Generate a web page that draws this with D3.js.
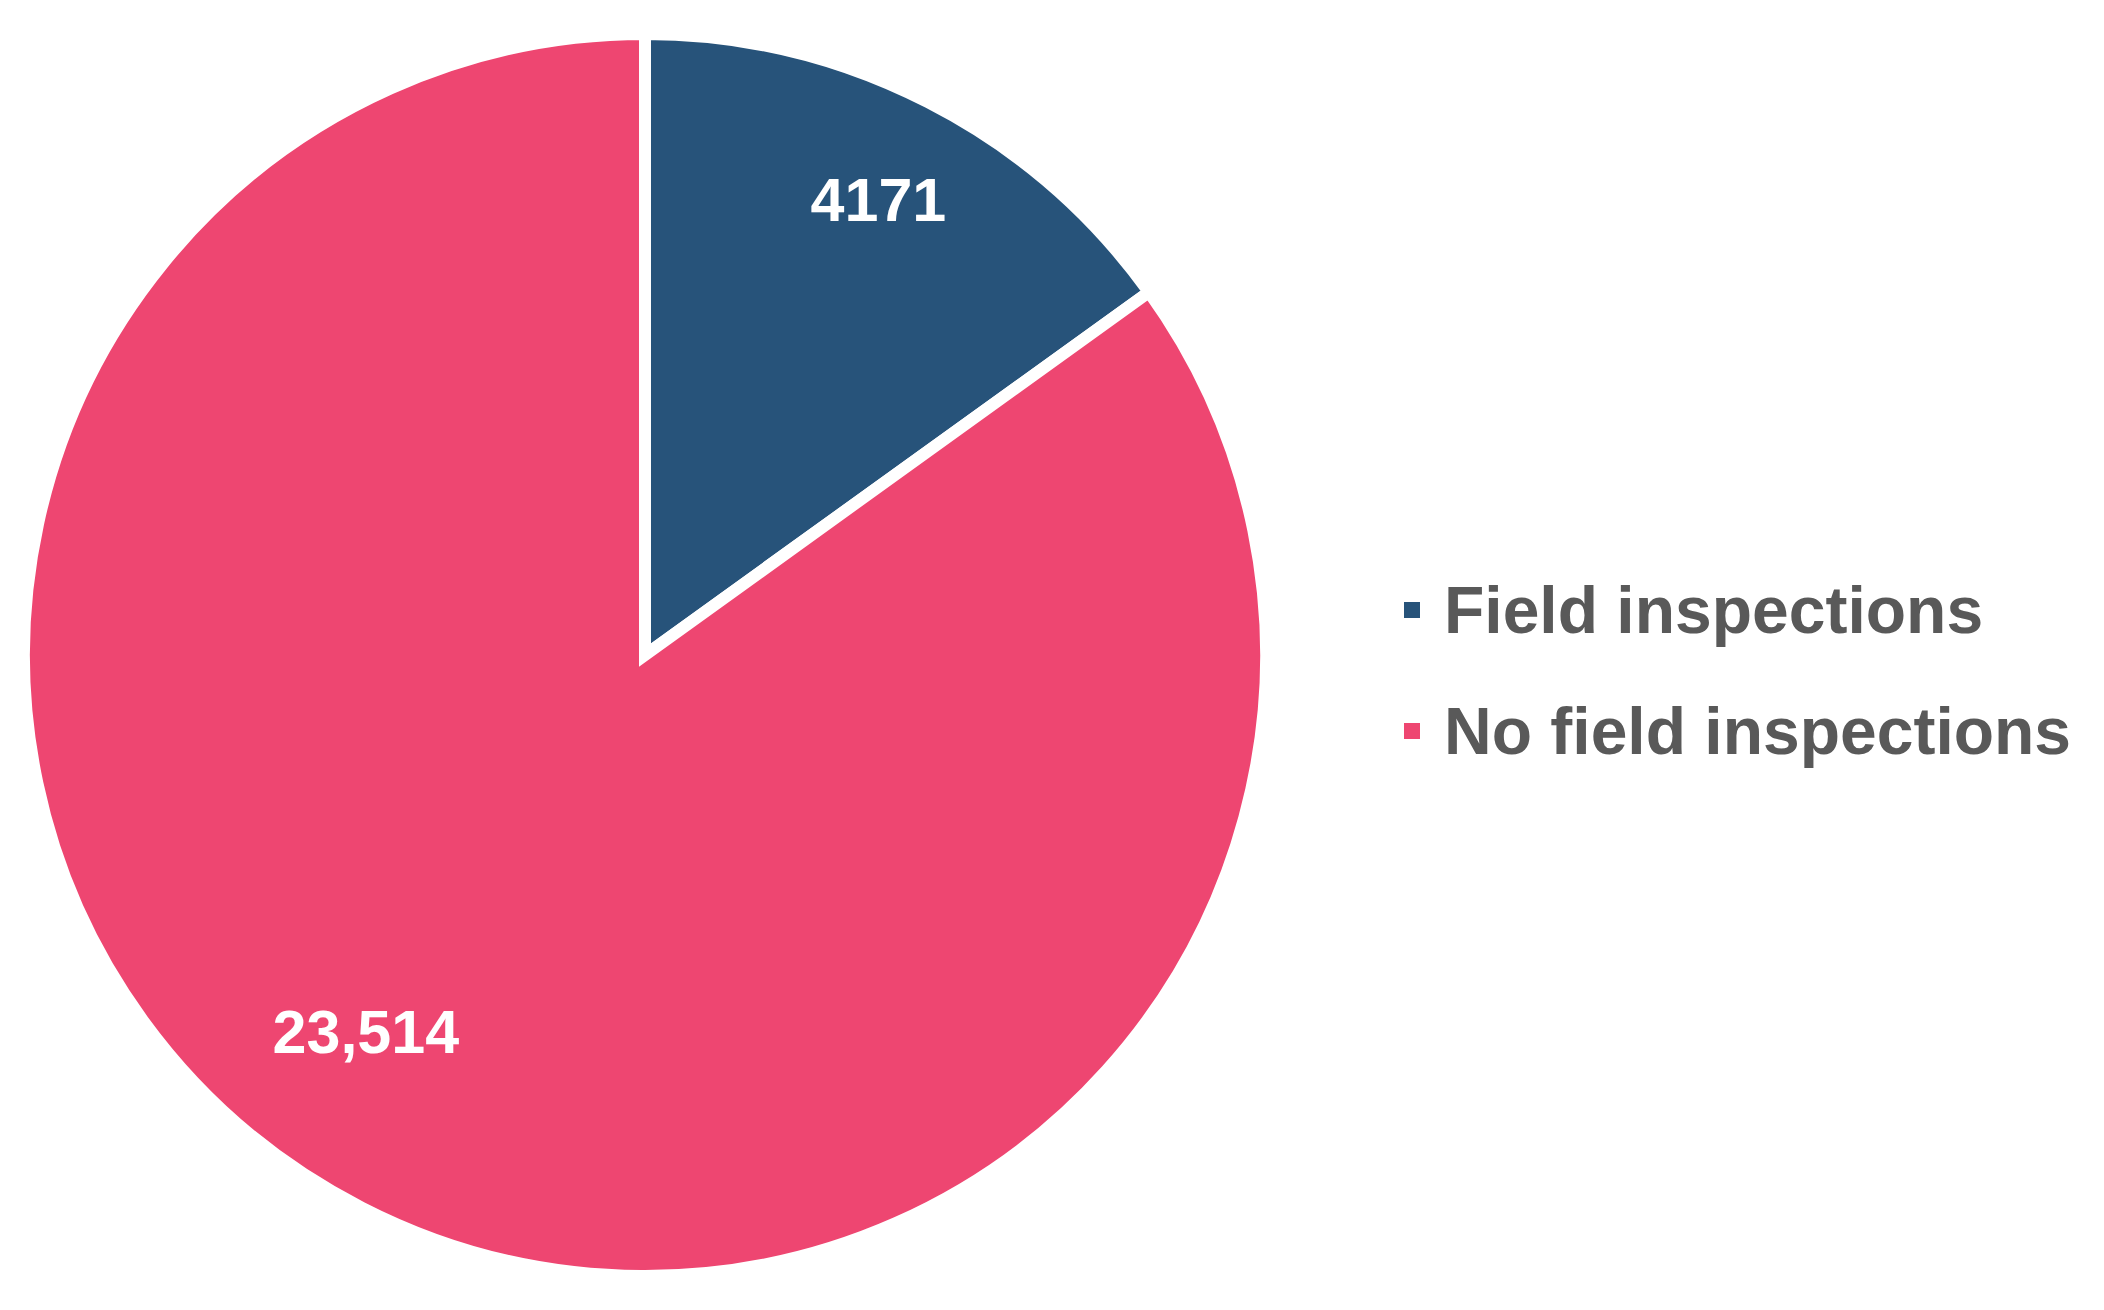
<!DOCTYPE html>
<html>
<head>
<meta charset="utf-8">
<script src="https://cdn.jsdelivr.net/npm/d3@7"></script>
<style>
  html, body { margin: 0; padding: 0; background: #ffffff; }
  svg { display: block; }
</style>
</head>
<body>
<svg id="chart" width="2104" height="1310"></svg>
<script>
// ---- data ----
const categories = ["Field inspections", "No field inspections"];
const values = [4171, 23514];
const valueLabels = ["4171", "23,514"];
const colors = ["#27537A", "#EE4671"];

// ---- layout ----
const W = 2104, H = 1310;
const cx = 645, cy = 655;
const radius = 621;
const labelRadius = [512, 468];
const labelAngleShift = [0, 9.5]; // degrees

const svg = d3.select("#chart");

const pie = d3.pie().sort(null).value(d => d.value).startAngle(0).endAngle(2 * Math.PI);
const arcs = pie(categories.map((c, i) => ({ name: c, value: values[i], label: valueLabels[i], color: colors[i] })));

const arc = d3.arc().innerRadius(0).outerRadius(radius);

const g = svg.append("g").attr("transform", `translate(${cx},${cy})`);

g.selectAll("path.slice")
  .data(arcs)
  .join("path")
  .attr("class", "slice")
  .attr("d", arc)
  .attr("fill", d => d.data.color)
  .attr("stroke", "#ffffff")
  .attr("stroke-width", 12)
  .attr("stroke-linejoin", "miter");

g.selectAll("text.val")
  .data(arcs)
  .join("text")
  .attr("class", "val")
  .attr("x", (d, i) => {
    const a = (d.startAngle + d.endAngle) / 2 + labelAngleShift[i] * Math.PI / 180;
    return labelRadius[i] * Math.sin(a);
  })
  .attr("y", (d, i) => {
    const a = (d.startAngle + d.endAngle) / 2 + labelAngleShift[i] * Math.PI / 180;
    return -labelRadius[i] * Math.cos(a);
  })
  .attr("dy", "0.36em")
  .attr("text-anchor", "middle")
  .attr("font-family", "'Liberation Sans', Arial, sans-serif")
  .attr("font-weight", "bold")
  .attr("font-size", 61)
  .attr("fill", "#ffffff")
  .text(d => d.data.label);

// ---- legend ----
const legendX = 1404, legendY0 = 610, legendStep = 121, sq = 16;
const legend = svg.append("g");
const items = legend.selectAll("g.item")
  .data(categories)
  .join("g")
  .attr("class", "item")
  .attr("transform", (d, i) => `translate(${legendX},${legendY0 + i * legendStep})`);

items.append("rect")
  .attr("x", 0)
  .attr("y", -sq / 2)
  .attr("width", sq)
  .attr("height", sq)
  .attr("fill", (d, i) => colors[i]);

items.append("text")
  .attr("x", 40)
  .attr("y", 23)
  .attr("font-family", "'Liberation Sans', Arial, sans-serif")
  .attr("font-weight", "bold")
  .attr("font-size", 66)
  .attr("fill", "#595959")
  .text(d => d);
</script>
</body>
</html>
